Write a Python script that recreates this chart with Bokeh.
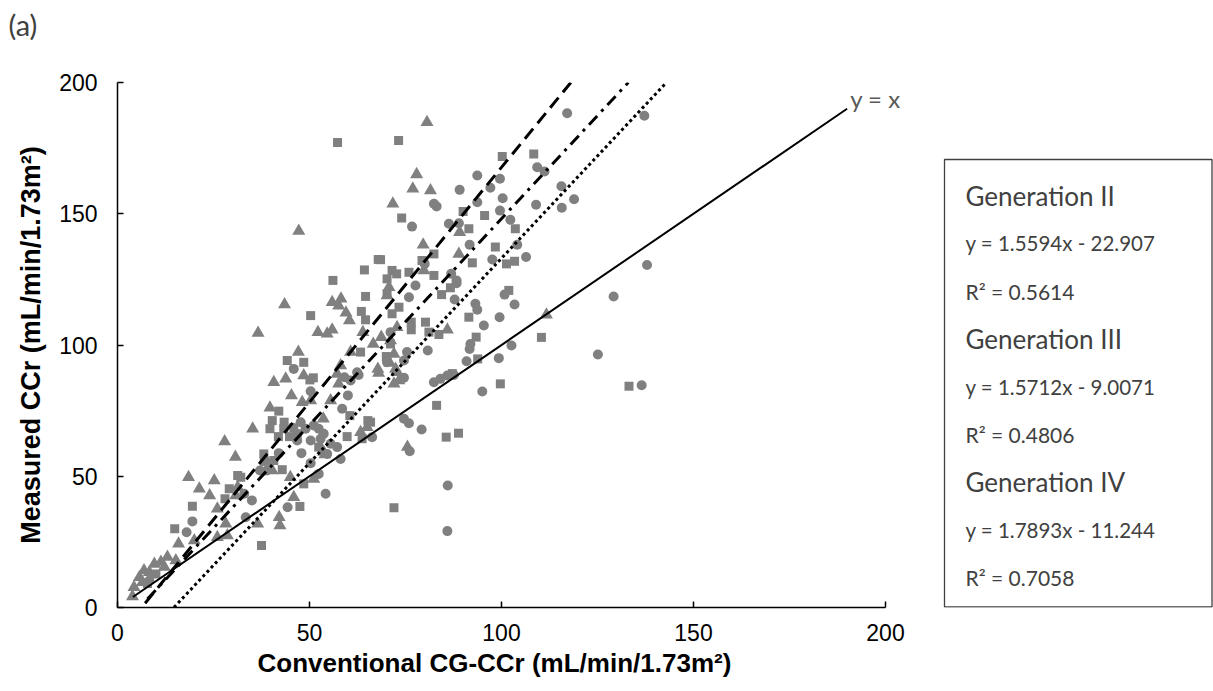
from bokeh.plotting import figure
from bokeh.models import Range1d, FixedTicker, Title
from bokeh.core.properties import value
from bokeh.embed import file_html
from bokeh.resources import INLINE

# ---- data -------------------------------------------------------------
# Generation II (circles): conventional CG-CCr vs measured CCr
gen2_x = [117.1, 137.2, 111.2, 115.6, 118.9, 115.7, 137.9, 129.2, 125.1, 136.5,
          77.6, 88.3, 75.9, 87.8, 100.8, 103.4, 93.2, 93.7, 99.5, 95.4,
          91.9, 91.7, 102.6, 80.8, 75.4, 90.9, 99.3, 74.6, 74.6, 82.4,
          84.1, 85.9, 87.6, 95.0, 75.9, 74.6, 79.2, 76.1, 86.0, 85.9,
          109.3, 93.7, 99.6, 97.1, 89.1, 100.3, 93.7, 109.0, 99.6, 102.3,
          82.4, 83.1, 76.7, 86.3, 88.9, 91.7, 104.1, 106.4, 97.6, 80.0,
          86.9, 88.3, 71.1, 45.9, 70.2, 62.4, 62.8, 59.1, 60.7, 60.0,
          50.3, 58.5, 66.3, 47.7, 49.0, 51.1, 52.4, 53.7, 46.8, 50.3,
          52.9, 55.5, 57.2, 58.1, 54.6, 47.9, 42.0, 37.1, 50.3, 52.4,
          38.9, 33.0, 35.0, 19.5, 18.0, 33.4, 44.3, 8.3, 54.2]
gen2_y = [188.3, 187.3, 166.1, 160.5, 155.5, 152.3, 130.5, 118.5, 96.4, 84.7,
          122.7, 123.5, 118.2, 117.3, 119.2, 115.4, 115.7, 113.4, 110.6, 107.4,
          100.4, 98.5, 99.8, 97.9, 97.3, 93.8, 95.0, 94.1, 87.5, 85.8,
          87.1, 88.4, 88.6, 82.3, 70.2, 71.9, 67.8, 59.5, 46.5, 29.1,
          167.7, 164.6, 163.3, 159.9, 159.1, 155.9, 154.4, 153.4, 151.2, 147.7,
          153.8, 152.8, 145.1, 146.2, 146.4, 138.2, 138.2, 133.5, 132.6, 130.9,
          127.1, 124.6, 104.9, 90.9, 93.4, 89.6, 88.6, 87.7, 86.5, 80.8,
          82.4, 75.7, 64.9, 70.6, 68.1, 69.3, 68.1, 66.2, 63.6, 63.6,
          64.3, 62.4, 61.1, 56.6, 58.5, 58.8, 58.8, 52.2, 55.0, 50.9,
          52.2, 43.3, 40.8, 32.8, 28.7, 34.4, 38.2, 10.3, 43.3]

# Generation III (squares)
gen3_x = [110.4, 133.2, 86.7, 84.4, 101.9, 91.5, 80.2, 76.5, 76.5, 83.7,
          81.1, 93.4, 70.2, 93.8, 87.2, 99.7, 83.1, 85.6, 88.8, 72.0,
          70.2, 73.3, 71.5, 100.2, 108.4, 74.0, 90.0, 95.6, 91.5, 103.6,
          98.4, 101.3, 103.4, 79.3, 82.4, 82.4, 92.4, 71.5, 72.7, 75.9,
          68.5, 70.2, 67.9, 64.3, 56.1, 64.6, 63.5, 64.6, 50.3, 71.1,
          63.3, 44.2, 48.5, 51.0, 70.0, 50.1, 42.0, 65.2, 59.8, 43.3,
          45.9, 46.8, 40.3, 39.7, 41.9, 44.8, 63.7, 52.4, 38.1, 40.7,
          42.9, 31.3, 43.4, 38.2, 32.1, 29.1, 28.0, 19.5, 14.9, 37.5,
          10.0, 7.8, 57.3, 73.2, 47.5, 48.5, 65.9, 60.5]
gen3_y = [102.9, 84.3, 121.8, 119.2, 120.8, 110.6, 108.7, 108.7, 105.8, 104.0,
          104.9, 103.0, 95.4, 94.7, 89.1, 85.2, 77.0, 64.9, 66.4, 38.0,
          119.5, 114.4, 111.9, 171.8, 172.8, 148.4, 150.9, 149.3, 144.3, 144.3,
          137.3, 130.9, 131.9, 132.2, 134.7, 126.5, 131.3, 128.4, 127.1, 127.7,
          132.5, 125.2, 132.6, 128.6, 124.6, 118.5, 112.8, 109.6, 111.2, 100.4,
          97.3, 94.1, 93.4, 87.5, 95.6, 86.7, 74.8, 71.2, 65.1, 68.1,
          68.5, 66.2, 71.2, 68.1, 65.1, 65.1, 64.3, 61.1, 58.5, 56.0,
          52.5, 50.3, 70.6, 55.7, 49.6, 45.2, 41.4, 38.6, 30.0, 23.6,
          12.8, 9.1, 177.1, 177.9, 38.5, 47.1, 70.6, 73.1]

# Generation IV (triangles)
gen4_x = [111.7, 85.9, 72.4, 72.0, 73.3, 75.5, 71.1, 80.6, 77.9, 76.9,
          81.5, 71.7, 89.1, 79.6, 79.8, 88.9, 70.7, 47.2, 70.2, 55.9,
          58.2, 57.6, 43.5, 59.5, 60.4, 36.6, 52.2, 54.6, 55.9, 63.9,
          68.7, 72.8, 66.6, 60.7, 47.1, 48.5, 40.7, 43.8, 45.3, 72.0,
          70.9, 67.8, 68.0, 58.1, 57.2, 57.6, 72.8, 55.5, 48.1, 50.3,
          39.7, 53.6, 65.0, 35.2, 54.0, 30.7, 39.0, 40.3, 45.0, 27.9,
          18.5, 25.2, 21.3, 24.0, 31.3, 30.8, 26.0, 28.2, 28.6, 36.5,
          42.3, 42.1, 15.9, 20.0, 26.0, 13.0, 11.3, 9.6, 8.3, 6.9,
          5.7, 6.5, 4.3, 3.9, 15.2, 12.2, 51.1, 45.9, 63.3, 53.7]
gen4_y = [111.5, 105.8, 90.9, 85.2, 86.5, 61.1, 101.7, 184.9, 165.0, 159.5,
          158.9, 153.8, 143.0, 138.2, 128.4, 134.7, 122.0, 143.4, 118.9, 116.3,
          117.6, 115.0, 115.4, 112.3, 109.3, 104.6, 104.9, 104.3, 105.8, 104.9,
          103.0, 106.8, 100.4, 97.3, 97.3, 88.4, 85.8, 87.1, 80.8, 96.6,
          93.1, 90.9, 89.3, 92.2, 89.0, 85.2, 89.6, 78.9, 78.2, 78.9,
          76.1, 71.9, 68.7, 68.1, 58.3, 57.3, 55.4, 52.2, 49.6, 63.2,
          49.6, 48.4, 45.2, 42.7, 45.8, 42.7, 37.6, 31.9, 27.4, 31.9,
          31.2, 34.4, 24.3, 25.5, 26.8, 19.2, 17.3, 16.6, 13.4, 14.1,
          11.5, 9.6, 7.7, 4.2, 17.9, 15.4, 49.0, 42.0, 66.8, 59.2]

generations = ["Generation II", "Generation III", "Generation IV"]
slopes = [1.5594, 1.5712, 1.7893]
intercepts = [-22.907, -9.0071, -11.244]
r_squared = [0.5614, 0.4806, 0.7058]

identity_span = [4, 190]
x_ticks = [0, 50, 100, 150, 200]
y_ticks = [0, 50, 100, 150, 200]
AXIS_MAX = 200

# ---- layout -----------------------------------------------------------
W, H = 1213, 691
LEFT, TOP, BOTTOM = 117, 82, 84
AXIS_W = 768                      # pixel length of the 0-200 x axis
FRAME_H = H - TOP - BOTTOM
X_END = AXIS_MAX * (W - LEFT) / AXIS_W   # extra room on the right for the stats box


def px_x(px):
    return (px - LEFT) * AXIS_MAX / AXIS_W


def px_y(py):
    return (H - BOTTOM - py) * AXIS_MAX / FRAME_H


GRAY = "#808080"
TEXT_GRAY = "#404040"
LIGHT_FONT = "Lato"
AXIS_FONT = "Liberation Sans"

p = figure(width=W, height=H, output_backend="svg", toolbar_location=None,
           x_range=Range1d(0, X_END), y_range=Range1d(0, AXIS_MAX),
           min_border_left=LEFT, min_border_right=0,
           min_border_top=TOP, min_border_bottom=BOTTOM)
p.outline_line_color = None
p.xgrid.grid_line_color = None
p.ygrid.grid_line_color = None
p.background_fill_color = "white"
p.border_fill_color = "white"

# panel tag (a blank second line lifts it toward the top edge)
p.title.text = "(a)\n "
p.title.align = "left"
p.title.vertical_align = "bottom"
p.title.offset = -109
p.title.standoff = 0
p.title.text_font = LIGHT_FONT
p.title.text_font_style = "normal"
p.title.text_font_size = "29px"
p.title.text_line_height = 1.15
p.title.text_color = TEXT_GRAY

# scatter points
p.scatter(gen2_x, gen2_y, marker="circle", size=10, fill_color=GRAY, line_color=None)
p.scatter(gen3_x, gen3_y, marker="square", size=9, fill_color=GRAY, line_color=None)
p.scatter(gen4_x, gen4_y, marker="triangle", size=13, fill_color=GRAY, line_color=None)

# identity line
p.line(identity_span, identity_span, line_color="black", line_width=2)
p.text([identity_span[1] + 0.8], [identity_span[1] + 4], text=["y = x"],
       text_font=value(LIGHT_FONT), text_font_size="24px", text_color="#595959",
       text_align="left", text_baseline="middle")

# regression lines
series_x = [gen2_x, gen3_x, gen4_x]
dashes = ["3 3", "12 6 3 6", "13 7"]
for xs, m, b, dash in zip(series_x, slopes, intercepts, dashes):
    x0 = min(xs)
    x1 = (AXIS_MAX - b) / m
    p.line([x0, x1], [m * x0 + b, m * x1 + b], line_color="black",
           line_width=3, line_dash=dash, line_cap="butt")

# stats box
p.quad(left=[px_x(944)], right=[px_x(1211.5)], bottom=[px_y(606.5)], top=[px_y(159)],
       fill_color=None, line_color="#404040", line_width=1.3)

rows, sizes = [], []
for g, m, b, r2 in zip(generations, slopes, intercepts, r_squared):
    sign = "-" if b < 0 else "+"
    rows += [g, f"y = {m}x {sign} {abs(b)}", f"R\u00b2 = {r2}"]
    sizes += ["26px", "20.5px", "21px"]
row_y = [px_y(195 + i * 47.75) for i in range(len(rows))]
for txt, yy, fs in zip(rows, row_y, sizes):
    p.text([px_x(965)], [yy], text=[txt], text_font=value(LIGHT_FONT),
           text_font_size=fs, text_color=TEXT_GRAY,
           text_align="left", text_baseline="middle")

# axes
for ax, ticks in ((p.xaxis, x_ticks), (p.yaxis, y_ticks)):
    ax.ticker = FixedTicker(ticks=ticks)
    ax.bounds = (0, AXIS_MAX)
    ax.axis_line_color = "black"
    ax.axis_line_width = 1.5
    ax.major_tick_line_color = "black"
    ax.major_tick_line_width = 1.5
    ax.major_tick_in = 6
    ax.major_tick_out = 0
    ax.minor_tick_line_color = None
    ax.major_label_text_font = AXIS_FONT
    ax.major_label_text_font_size = "23px"
    ax.major_label_text_color = "black"

p.xaxis.major_label_standoff = 16
p.yaxis.major_label_standoff = 20
p.yaxis.axis_label = "Measured CCr (mL/min/1.73m\u00b2)"
p.yaxis.axis_label_text_font = AXIS_FONT
p.yaxis.axis_label_text_font_style = "bold"
p.yaxis.axis_label_text_font_size = "27px"
p.yaxis.axis_label_text_color = "black"
p.yaxis.axis_label_standoff = 10

# x axis title, aligned under the 0-200 span of the axis
p.add_layout(Title(text="Conventional CG-CCr (mL/min/1.73m\u00b2)", align="left",
                   offset=140, standoff=4, text_font=AXIS_FONT, text_font_style="bold",
                   text_font_size="26px", text_color="black"), "below")

open("out.html", "w").write(file_html(p, INLINE))
